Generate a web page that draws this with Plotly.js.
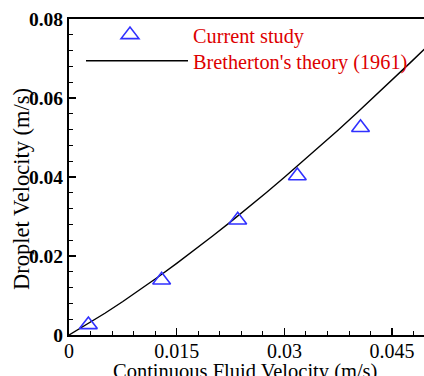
<!DOCTYPE html>
<html>
<head>
<meta charset="utf-8">
<script src="https://cdn.plot.ly/plotly-3.0.1.min.js"></script>
<style>html,body{margin:0;padding:0;background:#fff;}#chart{width:424px;height:376px;}</style>
</head>
<body>
<div id="chart"></div>
<script>
// Current study (symbols)
var studyX = [0.0027, 0.0129, 0.0235, 0.0318, 0.0406];
var studyY = [0.0026, 0.0139, 0.0291, 0.0403, 0.0525];

// Bretherton's theory (1961) curve
var theoryX = [0, 0.0025, 0.005, 0.0075, 0.01, 0.0125, 0.015, 0.0175, 0.02, 0.0225, 0.025,
               0.0275, 0.03, 0.0325, 0.035, 0.0375, 0.04, 0.0425, 0.045, 0.0475, 0.05];
var theoryY = [0, 0.00266, 0.00550, 0.00849, 0.01159, 0.01481, 0.01813, 0.02155, 0.02505, 0.02865, 0.03233,
               0.03609, 0.03994, 0.04385, 0.04785, 0.05191, 0.05605, 0.06026, 0.06453, 0.06889, 0.07328];

var xTickVals = [0, 0.015, 0.03, 0.045];
var xTickText = ["0", "0.015", "0.03", "0.045"];
var yTickVals = [0, 0.02, 0.04, 0.06, 0.08];
var yTickText = ["0", "0.02", "0.04", "0.06", "0.08"];

var seriesNames = ["Current study", "Bretherton's theory (1961)"];
var xTitle = "Continuous Fluid Velocity (m/s)";
var yTitle = "Droplet Velocity (m/s)";

var serif = "Liberation Serif";

var traces = [
  {
    x: theoryX, y: theoryY, mode: "lines", name: seriesNames[1], legend: "legend2",
    line: {color: "#000000", width: 1.4}
  },
  {
    x: studyX, y: studyY, mode: "markers", name: seriesNames[0], legend: "legend",
    marker: {symbol: "triangle-up-open", size: 15.5, color: "#3030ff", line: {color: "#3030ff", width: 1.6}}
  }
];

var W = 424, H = 376;
var L = 69, R = 0, T = 19, B = 41;
var PW = W - L - R, PH = H - T - B;
function px2x(p) { return (p - L) / PW; }
function px2y(p) { return (H - B - p) / PH; }

var layout = {
  width: W, height: H,
  margin: {l: L, r: R, t: T, b: B, autoexpand: false},
  paper_bgcolor: "#ffffff", plot_bgcolor: "#ffffff",
  font: {family: serif, color: "#000000"},
  showlegend: true,
  xaxis: {
    range: [0, 0.04944],
    tickmode: "array", tickvals: xTickVals, ticktext: xTickText,
    ticks: "inside", ticklen: 7, tickwidth: 1.5, tickcolor: "#000",
    minor: {dtick: 0.003, tick0: 0, ticks: "inside", ticklen: 4, tickwidth: 1, tickcolor: "#000"},
    showline: true, linecolor: "#000", linewidth: 2, mirror: true,
    showgrid: false, zeroline: false,
    ticklabelstandoff: -3,
    tickfont: {family: serif, size: 20, color: "#000"}
  },
  yaxis: {
    range: [0, 0.08],
    tickmode: "array", tickvals: yTickVals, ticktext: yTickText,
    ticks: "inside", ticklen: 7, tickwidth: 1.5, tickcolor: "#000",
    minor: {dtick: 0.004, tick0: 0, ticks: "inside", ticklen: 4, tickwidth: 1, tickcolor: "#000"},
    showline: true, linecolor: "#000", linewidth: 2,
    showgrid: false, zeroline: false,
    tickfont: {family: serif, size: 19.5, color: "#000", weight: "bold"}
  },
  annotations: [
    {text: xTitle, xref: "paper", yref: "paper", x: px2x(245), y: px2y(371),
     xanchor: "center", yanchor: "middle", showarrow: false,
     font: {family: serif, size: 20.5, color: "#000"}},
    {text: yTitle, xref: "paper", yref: "paper", x: px2x(21), y: px2y(189),
     xanchor: "center", yanchor: "middle", textangle: -90, showarrow: false,
     font: {family: serif, size: 22.5, color: "#000"}}
  ],
  legend: {
    x: px2x(67), y: px2y(15), xanchor: "left", yanchor: "top",
    bgcolor: "rgba(0,0,0,0)", borderwidth: 0,
    itemwidth: 116,
    font: {family: serif, size: 20.3, color: "#dd0000"}
  },
  legend2: {
    x: px2x(81), y: px2y(41), xanchor: "left", yanchor: "top",
    bgcolor: "rgba(0,0,0,0)", borderwidth: 0,
    itemwidth: 102,
    font: {family: serif, size: 20.3, color: "#dd0000"}
  }
};

Plotly.newPlot("chart", traces, layout, {staticPlot: true, displayModeBar: false});
</script>
</body>
</html>
